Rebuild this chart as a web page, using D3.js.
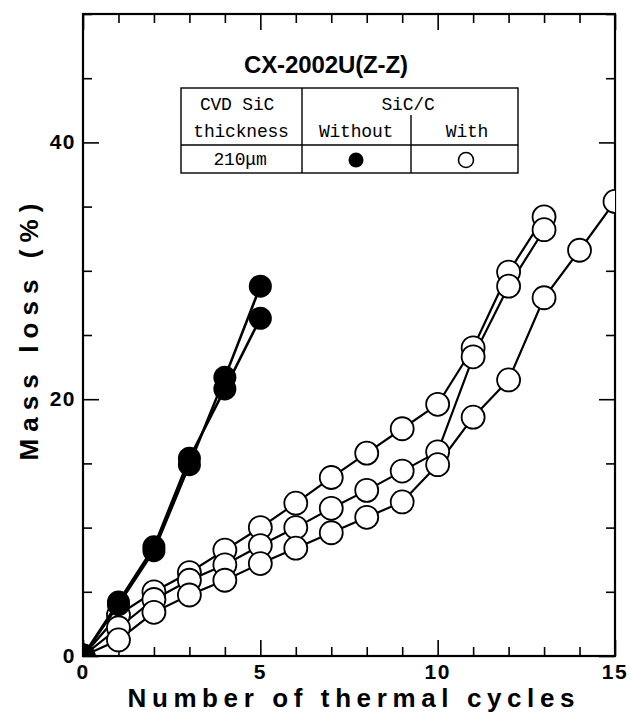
<!DOCTYPE html>
<html>
<head>
<meta charset="utf-8">
<script src="https://cdnjs.cloudflare.com/ajax/libs/d3/7.8.5/d3.min.js"></script>
<style>
  body { margin: 0; background: #fff; }
  svg { display: block; }
  .bold { font-family: "Liberation Sans", Arial, sans-serif; font-weight: bold; }
  .mono { font-family: "Liberation Mono", "DejaVu Sans Mono", monospace; }
</style>
</head>
<body>
<svg id="chart" width="630" height="715"></svg>
<script>
// cycles
var cycles = d3.range(0, 16);

// SiC/C without (filled), two specimens
var withoutA = [0, 4.0, 8.2, 14.9, 21.7, 28.8];
var withoutB = [0, 4.2, 8.5, 15.4, 20.8, 26.3];

// SiC/C with (open), three specimens
var withA = [0, 3.2, 5.0, 6.5, 8.25, 10.0, 11.9, 13.9, 15.8, 17.7, 19.6, 24.0, 29.9, 34.2];
var withB = [0, 2.2, 4.4, 5.9, 7.1, 8.6, 10.0, 11.5, 12.9, 14.4, 15.9, 23.3, 28.8, 33.2];
var withC = [0, 1.25, 3.4, 4.75, 5.9, 7.2, 8.4, 9.6, 10.8, 12.0, 14.9, 18.6, 21.5, 27.9, 31.6, 35.4];

var xTicks = [0, 5, 10, 15];
var yTicks = [0, 20, 40];

var svg = d3.select('#chart');
var pLeft = 83, pRight = 615, pTop = 14, pBottom = 656;

var x = d3.scaleLinear().domain([0, 15]).range([pLeft, pRight]);
var y = d3.scaleLinear().domain([0, 50]).range([pBottom, pTop]);

svg.append('defs').append('clipPath').attr('id', 'plotclip')
  .append('rect').attr('x', pLeft).attr('y', pTop)
  .attr('width', pRight - pLeft).attr('height', pBottom - pTop);

// axes: ticks inside on all four sides
function styleAxis(g) {
  g.select('.domain').remove();
  g.selectAll('.tick line').attr('stroke', '#000').attr('stroke-width', 1.6);
  g.selectAll('.tick text').remove();
}
var xMinor = d3.range(0, 16).filter(function(d) { return d % 5; });
var yMinor = d3.range(0, 51, 5).filter(function(d) { return d % 20; });
var xMajor = xTicks, yMajor = [0, 20, 40];

svg.append('g').attr('transform', 'translate(0,' + pBottom + ')')
  .call(d3.axisBottom(x).tickValues(xMinor).tickSize(-9)).call(styleAxis);
svg.append('g').attr('transform', 'translate(0,' + pBottom + ')')
  .call(d3.axisBottom(x).tickValues(xMajor).tickSize(-16)).call(styleAxis);
svg.append('g').attr('transform', 'translate(0,' + pTop + ')')
  .call(d3.axisTop(x).tickValues(xMinor).tickSize(-9)).call(styleAxis);
svg.append('g').attr('transform', 'translate(0,' + pTop + ')')
  .call(d3.axisTop(x).tickValues(xMajor).tickSize(-16)).call(styleAxis);
svg.append('g').attr('transform', 'translate(' + pLeft + ',0)')
  .call(d3.axisLeft(y).tickValues(yMinor).tickSize(-9)).call(styleAxis);
svg.append('g').attr('transform', 'translate(' + pLeft + ',0)')
  .call(d3.axisLeft(y).tickValues(yMajor).tickSize(-16)).call(styleAxis);
svg.append('g').attr('transform', 'translate(' + pRight + ',0)')
  .call(d3.axisRight(y).tickValues(yMinor).tickSize(-9)).call(styleAxis);
svg.append('g').attr('transform', 'translate(' + pRight + ',0)')
  .call(d3.axisRight(y).tickValues(yMajor).tickSize(-16)).call(styleAxis);

svg.append('rect').attr('x', pLeft).attr('y', pTop)
  .attr('width', pRight - pLeft).attr('height', pBottom - pTop)
  .attr('fill', 'none').attr('stroke', '#000').attr('stroke-width', 2.2);

// tick labels
svg.selectAll('.xl').data(xTicks).enter().append('text')
  .attr('class', 'bold').attr('x', function(d) { return x(d); }).attr('y', 679)
  .attr('text-anchor', 'middle').attr('font-size', 21).attr('letter-spacing', 1.5)
  .text(function(d) { return d; });
svg.selectAll('.yl').data(yTicks).enter().append('text')
  .attr('class', 'bold').attr('x', 76).attr('y', function(d) { return y(d) + 7; })
  .attr('text-anchor', 'end').attr('font-size', 21).attr('letter-spacing', 1.5)
  .text(function(d) { return d; });

// axis titles
svg.append('text').attr('class', 'bold').attr('x', 351).attr('y', 707)
  .attr('text-anchor', 'middle').attr('font-size', 26)
  .attr('textLength', 447).attr('lengthAdjust', 'spacing')
  .text('Number of thermal cycles');
svg.append('text').attr('class', 'bold')
  .attr('transform', 'translate(38,332) rotate(-90)')
  .attr('text-anchor', 'middle').attr('font-size', 26)
  .attr('textLength', 257).attr('lengthAdjust', 'spacing')
  .text('Mass loss (%)');

// data
var plot = svg.append('g').attr('clip-path', 'url(#plotclip)');
var line = d3.line().x(function(d, i) { return x(cycles[i]); }).y(function(d) { return y(d); });
var R = 11.5;

[withA, withB, withC].forEach(function(s) {
  plot.append('path').datum(s).attr('d', line)
    .attr('fill', 'none').attr('stroke', '#000').attr('stroke-width', 2.2);
});
[withA, withB, withC].forEach(function(s) {
  plot.selectAll(null).data(s).enter().append('circle')
    .attr('cx', function(d, i) { return x(cycles[i]); })
    .attr('cy', function(d) { return y(d); })
    .attr('r', R).attr('fill', '#fff').attr('stroke', '#000').attr('stroke-width', 1.8);
});
[withoutA, withoutB].forEach(function(s) {
  plot.append('path').datum(s).attr('d', line)
    .attr('fill', 'none').attr('stroke', '#000').attr('stroke-width', 2.6);
});
[withoutA, withoutB].forEach(function(s) {
  plot.selectAll(null).data(s).enter().append('circle')
    .attr('cx', function(d, i) { return x(cycles[i]); })
    .attr('cy', function(d) { return y(d); })
    .attr('r', R).attr('fill', '#000');
});

// title and legend table
svg.append('text').attr('class', 'bold').attr('x', 326).attr('y', 73)
  .attr('text-anchor', 'middle').attr('font-size', 24)
  .attr('textLength', 164).attr('lengthAdjust', 'spacing')
  .text('CX-2002U(Z-Z)');

var tb = svg.append('g');
var tl = 181, tr = 518, tt = 88, tm = 145, tbm = 173, c1 = 302, c2 = 411;
tb.append('rect').attr('x', tl).attr('y', tt).attr('width', tr - tl).attr('height', tbm - tt)
  .attr('fill', '#fff').attr('stroke', '#000').attr('stroke-width', 1.4);
tb.append('line').attr('x1', tl).attr('x2', tr).attr('y1', tm).attr('y2', tm)
  .attr('stroke', '#000').attr('stroke-width', 1.4);
tb.append('line').attr('x1', c1).attr('x2', c1).attr('y1', tt).attr('y2', tbm)
  .attr('stroke', '#000').attr('stroke-width', 1.4);
tb.append('line').attr('x1', c2).attr('x2', c2).attr('y1', 115).attr('y2', tbm)
  .attr('stroke', '#000').attr('stroke-width', 1.4);

var cells = [
  { t: 'CVD SiC', x: 237, y: 110 },
  { t: 'thickness', x: 241, y: 137 },
  { t: '210\u03bcm', x: 240, y: 165 },
  { t: 'SiC/C', x: 408, y: 110 },
  { t: 'Without', x: 356, y: 137 },
  { t: 'With', x: 467, y: 137 }
];
tb.selectAll('.cell').data(cells).enter().append('text')
  .attr('class', 'mono').attr('x', function(d) { return d.x; }).attr('y', function(d) { return d.y; })
  .attr('text-anchor', 'middle').attr('font-size', 18).attr('letter-spacing', -0.2)
  .text(function(d) { return d.t; });

tb.append('circle').attr('cx', 356).attr('cy', 160).attr('r', 7.5).attr('fill', '#000');
tb.append('circle').attr('cx', 466).attr('cy', 160).attr('r', 7.5)
  .attr('fill', '#fff').attr('stroke', '#000').attr('stroke-width', 1.6);
</script>
</body>
</html>
